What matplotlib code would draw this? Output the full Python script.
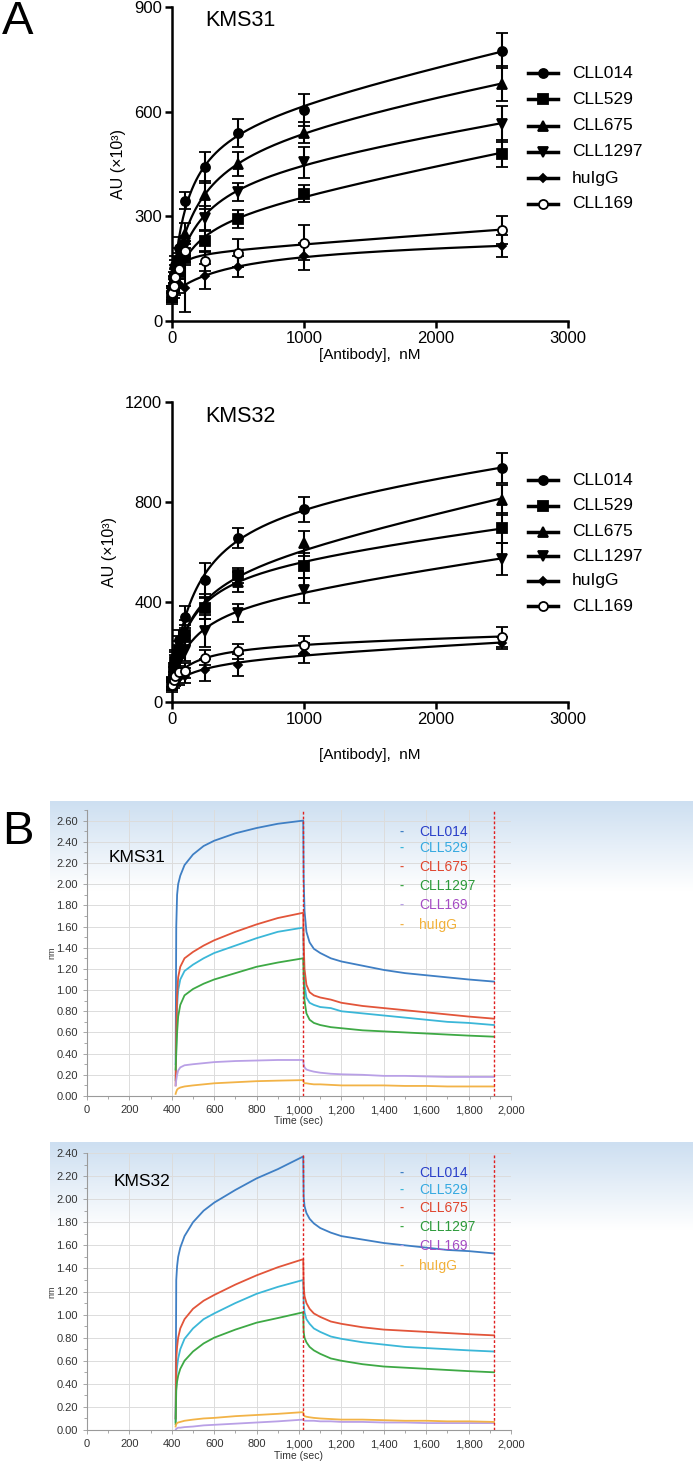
import numpy as np
import matplotlib
matplotlib.use("Agg")
import matplotlib.pyplot as plt
from matplotlib.lines import Line2D
from matplotlib.colors import LinearSegmentedColormap
from matplotlib.ticker import MultipleLocator, FuncFormatter

# ---------------- panel A data (AU x10^3) ----------------
conc = [0, 12.5, 25, 50, 100, 250, 500, 1000, 2500]

a31_CLL014 = [75, 120, 160, 210, 345, 440, 540, 605, 775]
a31_CLL529 = [70, 95, 115, 140, 185, 228, 292, 365, 480]
a31_CLL675 = [80, 110, 150, 185, 250, 360, 450, 540, 680]
a31_CLL1297 = [80, 105, 140, 170, 215, 295, 370, 455, 565]
a31_huIgG = [65, 80, 95, 105, 95, 128, 155, 185, 215]
a31_CLL169 = [80, 100, 125, 150, 200, 172, 195, 225, 262]
e31_CLL014 = [20, 20, 25, 30, 25, 45, 40, 45, 50]
e31_CLL529 = [15, 15, 20, 20, 25, 30, 25, 25, 40]
e31_CLL675 = [20, 20, 25, 25, 30, 40, 35, 30, 50]
e31_CLL1297 = [20, 20, 20, 25, 30, 35, 25, 45, 52]
e31_huIgG = [15, 15, 20, 25, 70, 35, 30, 40, 32]
e31_CLL169 = [20, 20, 25, 30, 30, 30, 40, 50, 40]

a32_CLL014 = [70, 130, 180, 250, 340, 488, 656, 772, 936]
a32_CLL529 = [75, 120, 160, 210, 270, 376, 508, 545, 696]
a32_CLL675 = [80, 125, 170, 225, 285, 382, 482, 636, 808]
a32_CLL1297 = [70, 100, 130, 165, 205, 285, 356, 448, 572]
a32_huIgG = [60, 75, 85, 95, 105, 128, 148, 196, 236]
a32_CLL169 = [70, 90, 105, 120, 125, 178, 204, 228, 262]
e32_CLL014 = [20, 25, 30, 40, 45, 70, 40, 50, 60]
e32_CLL529 = [20, 20, 30, 35, 40, 45, 30, 50, 60]
e32_CLL675 = [20, 25, 30, 40, 45, 50, 40, 50, 60]
e32_CLL1297 = [20, 20, 25, 30, 40, 65, 35, 50, 64]
e32_huIgG = [20, 20, 20, 25, 30, 45, 45, 40, 25]
e32_CLL169 = [20, 20, 20, 25, 30, 30, 30, 35, 40]

a_names = ["CLL014", "CLL529", "CLL675", "CLL1297", "huIgG", "CLL169"]

# ---------------- panel B data (nm) ----------------
t_on = [418, 421, 425, 430, 440, 460, 500, 550, 600, 700, 800, 900, 1020]
t_off = [1020, 1022, 1026, 1035, 1050, 1070, 1100, 1150, 1200, 1300, 1400, 1500, 1600, 1700, 1800, 1920]

b31_CLL014 = [0.3, 1.6, 1.9, 2.0, 2.08, 2.18, 2.28, 2.36, 2.41, 2.48, 2.53, 2.57, 2.60,
              2.60, 2.06, 1.75, 1.55, 1.45, 1.39, 1.35, 1.30, 1.27, 1.23, 1.19, 1.16, 1.14, 1.12, 1.10, 1.08]
b31_CLL529 = [0.15, 0.5, 0.85, 1.0, 1.1, 1.18, 1.24, 1.30, 1.35, 1.42, 1.49, 1.55, 1.59,
              1.59, 1.30, 1.05, 0.93, 0.88, 0.86, 0.84, 0.83, 0.80, 0.78, 0.76, 0.74, 0.72, 0.70, 0.69, 0.67]
b31_CLL675 = [0.1, 0.6, 0.95, 1.12, 1.22, 1.30, 1.36, 1.42, 1.47, 1.55, 1.62, 1.68, 1.73,
              1.73, 1.45, 1.20, 1.05, 0.98, 0.95, 0.93, 0.91, 0.88, 0.85, 0.83, 0.81, 0.79, 0.77, 0.75, 0.73]
b31_CLL1297 = [0.25, 0.4, 0.6, 0.75, 0.86, 0.95, 1.01, 1.06, 1.10, 1.16, 1.22, 1.26, 1.30,
               1.30, 1.10, 0.90, 0.78, 0.72, 0.69, 0.67, 0.65, 0.64, 0.62, 0.61, 0.60, 0.59, 0.58, 0.57, 0.56]
b31_CLL169 = [0.1, 0.15, 0.2, 0.24, 0.27, 0.29, 0.30, 0.31, 0.32, 0.33, 0.335, 0.34, 0.34,
              0.34, 0.30, 0.27, 0.25, 0.24, 0.23, 0.22, 0.21, 0.205, 0.20, 0.19, 0.19, 0.185, 0.18, 0.18, 0.18]
b31_huIgG = [0.02, 0.04, 0.06, 0.07, 0.08, 0.09, 0.10, 0.11, 0.12, 0.13, 0.14, 0.145, 0.15,
             0.15, 0.13, 0.12, 0.12, 0.115, 0.11, 0.11, 0.105, 0.10, 0.10, 0.10, 0.095, 0.095, 0.09, 0.09, 0.09]

b32_CLL014 = [0.1, 1.3, 1.42, 1.5, 1.58, 1.68, 1.80, 1.90, 1.97, 2.08, 2.18, 2.26, 2.37,
              2.37, 2.02, 1.94, 1.88, 1.83, 1.79, 1.75, 1.71, 1.68, 1.65, 1.62, 1.60, 1.58, 1.56, 1.55, 1.53]
b32_CLL529 = [0.07, 0.45, 0.55, 0.62, 0.70, 0.79, 0.88, 0.96, 1.01, 1.10, 1.18, 1.24, 1.30,
              1.30, 1.10, 1.02, 0.96, 0.92, 0.88, 0.85, 0.81, 0.79, 0.76, 0.74, 0.72, 0.71, 0.70, 0.69, 0.68]
b32_CLL675 = [0.1, 0.62, 0.72, 0.80, 0.88, 0.96, 1.05, 1.12, 1.17, 1.26, 1.34, 1.41, 1.48,
              1.48, 1.25, 1.16, 1.10, 1.05, 1.01, 0.98, 0.94, 0.92, 0.89, 0.87, 0.86, 0.85, 0.84, 0.83, 0.82]
b32_CLL1297 = [0.05, 0.34, 0.42, 0.47, 0.53, 0.60, 0.68, 0.75, 0.80, 0.87, 0.93, 0.97, 1.02,
               1.02, 0.85, 0.80, 0.76, 0.72, 0.69, 0.66, 0.62, 0.60, 0.57, 0.55, 0.54, 0.53, 0.52, 0.51, 0.50]
b32_CLL169 = [0.0, 0.01, 0.015, 0.02, 0.02, 0.025, 0.03, 0.04, 0.045, 0.055, 0.065, 0.075, 0.09,
              0.09, 0.085, 0.08, 0.08, 0.08, 0.08, 0.075, 0.075, 0.07, 0.07, 0.065, 0.065, 0.06, 0.06, 0.06, 0.06]
b32_huIgG = [0.03, 0.05, 0.06, 0.065, 0.07, 0.08, 0.09, 0.10, 0.105, 0.12, 0.13, 0.14, 0.155,
             0.155, 0.13, 0.12, 0.115, 0.11, 0.105, 0.10, 0.095, 0.09, 0.09, 0.085, 0.08, 0.08, 0.075, 0.075, 0.07]

b_names = ["CLL014", "CLL529", "CLL675", "CLL1297", "CLL169", "huIgG"]
line_colors = {"CLL014": "#3f7fc4", "CLL529": "#3bb7d8", "CLL675": "#e2553a",
               "CLL1297": "#3ea945", "CLL169": "#b9a0e6", "huIgG": "#f2b347"}
text_colors = {"CLL014": "#2a3fc9", "CLL529": "#35a9e0", "CLL675": "#e0452d",
               "CLL1297": "#2c9a3a", "CLL169": "#a54cc4", "huIgG": "#f2b13a"}

W, H = 693, 1463
plt.rcParams['font.family'] = ['Liberation Sans', 'DejaVu Sans']
NARROW = ['Liberation Sans Narrow', 'Liberation Sans', 'DejaVu Sans']

fig = plt.figure(figsize=(W / 100, H / 100), dpi=100)


def rect(l, t, r, b):
    return [l / W, 1 - b / H, (r - l) / W, (b - t) / H]


def fy(y):
    return 1 - y / H


def fit_curve(x, y):
    # one-site binding + nonspecific term, least squares over a Kd grid
    x = np.asarray(x, float)
    y = np.asarray(y, float)
    best = None
    for kd in np.logspace(0.5, 4, 300):
        A = np.column_stack([np.ones_like(x), x / (kd + x), x])
        coef, *_ = np.linalg.lstsq(A, y, rcond=None)
        r = np.sum((A @ coef - y) ** 2)
        if best is None or r < best[0]:
            best = (r, kd, coef)
    _, kd, c = best
    xs = np.linspace(0, x.max(), 300)
    return xs, c[0] + c[1] * xs / (kd + xs) + c[2] * xs


markers = {"CLL014": ("o", "k", 6.5), "CLL529": ("s", "k", 6.5), "CLL675": ("^", "k", 6.5),
           "CLL1297": ("v", "k", 6.5), "huIgG": ("D", "k", 4.5), "CLL169": ("o", "white", 6.5)}


def panel_a(top, bottom, ymax, yticks, vals, errs, title, leg_y, xlabel_y):
    ax = fig.add_axes(rect(172, top, 568, bottom))
    for n in a_names:
        m, fc, ms = markers[n]
        xs, ys = fit_curve(conc, vals[n])
        ax.plot(xs, ys, color='k', lw=1.6, zorder=2)
        ax.errorbar(conc, vals[n], yerr=errs[n], fmt=m, ms=ms, mfc=fc, mec='k', mew=1.3,
                    ecolor='k', elinewidth=1.5, capsize=4, capthick=1.5, clip_on=False, zorder=3)
    ax.set_xlim(0, 3000)
    ax.set_ylim(0, ymax)
    ax.set_xticks([0, 1000, 2000, 3000])
    ax.set_yticks(yticks)
    for s in ['top', 'right']:
        ax.spines[s].set_visible(False)
    for s in ['left', 'bottom']:
        ax.spines[s].set_linewidth(1.8)
    ax.tick_params(direction='out', length=5, width=1.8, labelsize=12, pad=2)
    ax.set_ylabel('AU (×10³)', fontsize=11.5, labelpad=6)
    fig.text(370 / W, fy(xlabel_y), '[Antibody],  nM', fontsize=11, ha='center', va='center')
    fig.text(240 / W, fy(top + 14), title, fontsize=15.5, ha='center', va='center')
    for n, yy in zip(a_names, leg_y):
        m, fc, ms = markers[n]
        fig.add_artist(Line2D([528 / W, 558 / W], [fy(yy)] * 2, color='k', lw=2.5))
        fig.add_artist(Line2D([543 / W], [fy(yy)], marker=m, ms=ms, mfc=fc, mec='k', mew=1.3, color='k'))
        fig.text(572 / W, fy(yy), n, fontsize=12.5, va='center', ha='left')


a31 = dict(zip(a_names, [a31_CLL014, a31_CLL529, a31_CLL675, a31_CLL1297, a31_huIgG, a31_CLL169]))
e31 = dict(zip(a_names, [e31_CLL014, e31_CLL529, e31_CLL675, e31_CLL1297, e31_huIgG, e31_CLL169]))
a32 = dict(zip(a_names, [a32_CLL014, a32_CLL529, a32_CLL675, a32_CLL1297, a32_huIgG, a32_CLL169]))
e32 = dict(zip(a_names, [e32_CLL014, e32_CLL529, e32_CLL675, e32_CLL1297, e32_huIgG, e32_CLL169]))

panel_a(7, 321, 900, [0, 300, 600, 900], a31, e31, 'KMS31', [73, 99, 126, 152, 178, 204], 355)
panel_a(402, 702, 1200, [0, 400, 800, 1200], a32, e32, 'KMS32', [480, 506, 532, 556, 581, 606], 755)

cmap_bg = LinearSegmentedColormap.from_list('bg', ['#cddff1', '#ffffff'])


def panel_b(bg_top, top, bottom, ymax, vals, title, leg_y, xlabel_y, title_xy):
    bg = fig.add_axes(rect(50, bg_top, 693, bottom + 4))
    grad = np.clip(np.linspace(0, 1, 200) / 0.3, 0, 1)[:, None]
    bg.imshow(grad, cmap=cmap_bg, aspect='auto', extent=[0, 1, 0, 1], vmin=0, vmax=1)
    bg.axis('off')
    bg.set_zorder(-1)

    ax = fig.add_axes(rect(87, top, 511, bottom))
    ax.set_facecolor('none')
    t = t_on + t_off
    for n in b_names:
        ax.plot(t, vals[n], color=line_colors[n], lw=1.3, zorder=3)
    for tv in (1020, 1920):
        ax.axvline(tv, color='#e02020', lw=1.0, ls=(0, (2, 1.5)), zorder=4)
    ax.set_xlim(0, 2000)
    ax.set_ylim(0, ymax)
    ax.xaxis.set_major_locator(MultipleLocator(200))
    ax.xaxis.set_minor_locator(MultipleLocator(100))
    ax.yaxis.set_major_locator(MultipleLocator(0.2))
    ax.yaxis.set_minor_locator(MultipleLocator(0.1))
    ax.xaxis.set_major_formatter(FuncFormatter(lambda v, p: f'{v:,.0f}'))
    ax.yaxis.set_major_formatter(FuncFormatter(lambda v, p: f'{v:.2f}'))
    ax.grid(True, which='major', color='#dcdcdc', lw=0.7, zorder=0)
    for s in ['top', 'right']:
        ax.spines[s].set_visible(False)
    for s in ['left', 'bottom']:
        ax.spines[s].set_color('#9a9a9a')
        ax.spines[s].set_linewidth(0.8)
    ax.tick_params(which='both', colors='#9a9a9a', labelcolor='#333333', labelsize=8, length=3, width=0.6)
    ax.tick_params(which='minor', length=2)
    for lab in ax.get_xticklabels() + ax.get_yticklabels():
        lab.set_family(NARROW)
    fig.text(52 / W, fy((top + bottom) / 2), 'nm', rotation=90, fontsize=6.5, ha='center', va='center',
             color='#333333', family=NARROW)
    fig.text(299 / W, fy(xlabel_y), 'Time (sec)', fontsize=7.5, ha='center', va='center',
             color='#333333', family=NARROW)
    fig.text(title_xy[0] / W, fy(title_xy[1]), title, fontsize=12.5, ha='center', va='center')
    for n, yy in zip(b_names, leg_y):
        fig.text(402 / W, fy(yy), '-', fontsize=9, ha='center', va='center', color=line_colors[n],
                 fontweight='bold')
        fig.text(419 / W, fy(yy), n, fontsize=10, ha='left', va='center', color=text_colors[n],
                 family=NARROW)


b31 = dict(zip(b_names, [b31_CLL014, b31_CLL529, b31_CLL675, b31_CLL1297, b31_CLL169, b31_huIgG]))
b32 = dict(zip(b_names, [b32_CLL014, b32_CLL529, b32_CLL675, b32_CLL1297, b32_CLL169, b32_huIgG]))

panel_b(801, 810, 1096, 2.7, b31, 'KMS31', [832, 848, 867, 886, 905, 925], 1121, (137, 857))
panel_b(1142, 1153, 1430, 2.4, b32, 'KMS32', [1173, 1190, 1208, 1227, 1246, 1266], 1456, (142, 1182))

fig.text(18 / W, fy(22), 'A', fontsize=34, ha='center', va='center')
fig.text(18 / W, fy(832), 'B', fontsize=34, ha='center', va='center')

fig.savefig('out.png', dpi=100)
